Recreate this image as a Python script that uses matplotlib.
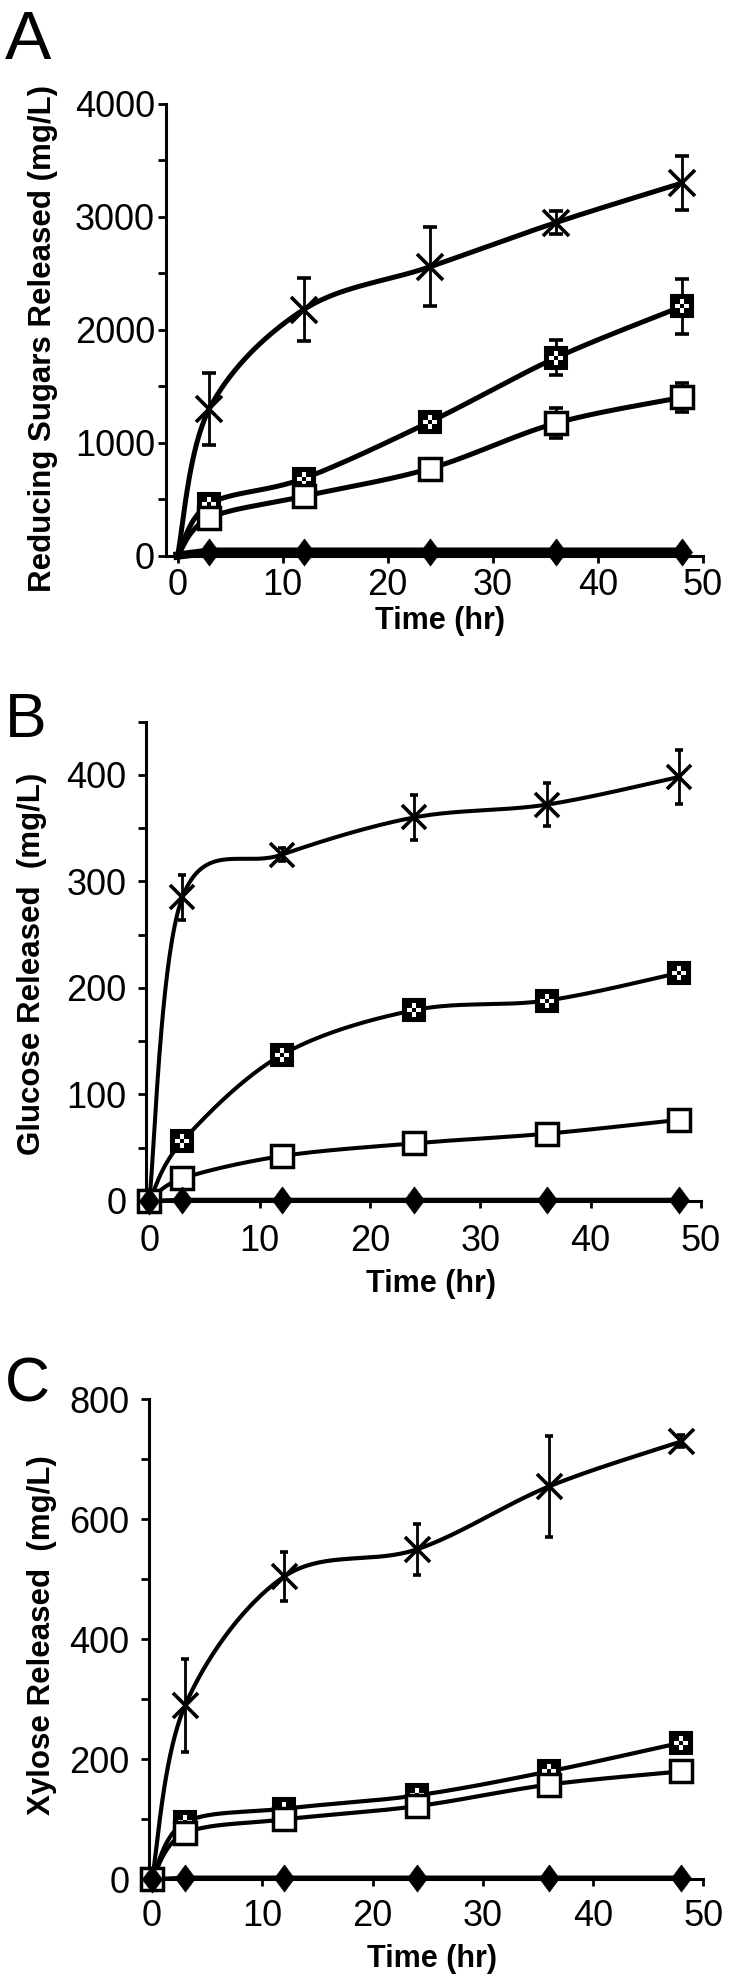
"""Sugar release time courses - three stacked panels (reducing sugars,
glucose, xylose). Excel-style smoothed lines, drawn as Catmull-Rom in
screen space so the curves bend the same way the original chart does.
"""
import numpy as np
import matplotlib
matplotlib.use("Agg")
import matplotlib.pyplot as plt
from matplotlib.ticker import MultipleLocator

plt.rcParams["font.family"] = ["Liberation Sans", "DejaVu Sans"]

W, H = 733, 1978
HOURS = [0, 3, 12, 24, 36, 48]

# A: reducing sugars released (mg/L)
A_X = [0, 1295, 2177, 2555, 2947, 3297]
A_X_ERR = [0, 320, 280, 350, 100, 240]
A_CHK = [0, 455, 682, 1183, 1750, 2205]
A_CHK_ERR = [0, 40, 50, 60, 155, 240]
A_SQ = [0, 332, 525, 770, 1172, 1400]
A_SQ_ERR = [0, 0, 0, 0, 130, 130]
A_DIA = [0, 35, 35, 35, 35, 35]

# B: glucose released (mg/L)
B_X = [0, 285, 325, 360, 372, 398]
B_X_ERR = [0, 21, 6, 21, 20, 25]
B_CHK = [0, 56, 137, 179, 188, 214]
B_CHK_ERR = [0, 0, 0, 0, 0, 0]
B_SQ = [0, 21, 42, 54, 63, 76]
B_SQ_ERR = [0, 0, 0, 0, 0, 0]
B_DIA = [0, 1, 1, 1, 1, 1]

# C: xylose released (mg/L)
C_X = [0, 290, 505, 550, 655, 730]
C_X_ERR = [0, 78, 41, 43, 84, 10]
C_CHK = [0, 95, 118, 140, 180, 228]
C_CHK_ERR = [0, 0, 15, 15, 15, 0]
C_SQ = [0, 77, 100, 122, 158, 180]
C_SQ_ERR = [0, 0, 15, 15, 0, 0]
C_DIA = [0, 3, 3, 3, 3, 3]

A_YTICKS = [0, 1000, 2000, 3000, 4000]
B_YTICKS = [0, 100, 200, 300, 400]
C_YTICKS = [0, 200, 400, 600, 800]
XTICKS = [0, 10, 20, 30, 40, 50]

DIAMOND = [(0, 1), (0.74, 0), (0, -1), (-0.74, 0), (0, 1)]


def frac(x0, y0, x1, y1):
    """pixel box (top-left / bottom-right) -> figure rect"""
    return [x0 / W, 1 - y1 / H, (x1 - x0) / W, (y1 - y0) / H]


def smooth(ax, xs, ys, n=40):
    pts = ax.transData.transform(np.column_stack([xs, ys]))
    P = np.vstack([pts[0], pts, pts[-1]])
    t = np.linspace(0, 1, n)[:, None]
    h00 = 2 * t**3 - 3 * t**2 + 1
    h10 = t**3 - 2 * t**2 + t
    h01 = -2 * t**3 + 3 * t**2
    h11 = t**3 - t**2
    segs = []
    for i in range(1, len(P) - 2):
        m1 = (P[i + 1] - P[i - 1]) / 2
        m2 = (P[i + 2] - P[i]) / 2
        segs.append(h00 * P[i] + h10 * m1 + h01 * P[i + 1] + h11 * m2)
    curve = ax.transData.inverted().transform(np.vstack(segs))
    return curve[:, 0], curve[:, 1]


def errbars(ax, xs, ys, errs, cap):
    xe = [x for x, e in zip(xs, errs) if e > 0]
    ye = [y for y, e in zip(ys, errs) if e > 0]
    ee = [e for e in errs if e > 0]
    if ee:
        ax.errorbar(xe, ye, yerr=ee, fmt="none", ecolor="black", elinewidth=2,
                    capsize=cap, capthick=2.6, clip_on=False, zorder=3)


def panel(fig, rect, xlim, ylim, ymajor, yminor, yticks, series, cfg):
    ax = fig.add_axes(rect)
    ax.set_xlim(*xlim)
    ax.set_ylim(*ylim)
    lw = cfg["lw"]
    cap = cfg["cap"]
    first = cfg["first_marker"]

    ys, yerr = series["chk"]
    sx, sy = smooth(ax, HOURS, ys)
    ax.plot(sx, sy, color="black", lw=lw, clip_on=False, zorder=2)
    errbars(ax, HOURS, ys, yerr, cap)
    mx, my = HOURS[first:], ys[first:]
    ax.plot(mx, my, ls="none", marker="s", ms=16, mfc="black", mec="black",
            mew=1.5, clip_on=False, zorder=4)
    ax.plot(mx, my, ls="none", marker="P", ms=10, mfc="white", mew=0,
            clip_on=False, zorder=4)
    ax.plot(mx, my, ls="none", marker="s", ms=3, mfc="black", mew=0,
            clip_on=False, zorder=4)

    ys, yerr = series["sq"]
    sx, sy = smooth(ax, HOURS, ys)
    ax.plot(sx, sy, color="black", lw=lw, clip_on=False, zorder=2)
    errbars(ax, HOURS, ys, yerr, cap)
    ax.plot(HOURS[first:], ys[first:], ls="none", marker="s", ms=16,
            mfc="white", mec="black", mew=2.5, clip_on=False, zorder=5)

    ys, yerr = series["x"]
    sx, sy = smooth(ax, HOURS, ys)
    ax.plot(sx, sy, color="black", lw=lw, clip_on=False, zorder=2)
    errbars(ax, HOURS, ys, yerr, cap)
    ax.plot(HOURS[1:], ys[1:], ls="none", marker="x", ms=cfg["x_ms"],
            mec="black", mew=2.6, clip_on=False, zorder=5)

    ys = series["dia"]
    ax.plot(HOURS, ys, color="black", lw=cfg["dia_lw"], clip_on=False, zorder=2)
    ax.plot(HOURS[first:], ys[first:], ls="none", marker=DIAMOND, ms=19.5,
            mfc="black", mec="black", mew=0.5, clip_on=False, zorder=6)

    for side in ("top", "right"):
        ax.spines[side].set_visible(False)
    for side in ("left", "bottom"):
        ax.spines[side].set_linewidth(2.2)
    ax.yaxis.set_major_locator(MultipleLocator(ymajor))
    ax.yaxis.set_minor_locator(MultipleLocator(yminor))
    ax.set_yticks(yticks)
    ax.set_xticks(XTICKS)
    ax.tick_params(axis="y", which="both", direction="out", length=6, width=2,
                   pad=cfg["ypad"], labelsize=26)
    ax.tick_params(axis="x", direction="out", length=5, width=2,
                   pad=cfg["xpad"], labelsize=26)
    return ax


def main():
    fig = plt.figure(figsize=(W / 100, H / 100), dpi=100)

    panel(fig, frac(166, 103.6, 703, 555.6), (-1.1, 50), (0, 4000), 1000, 500,
          A_YTICKS,
          {"x": (A_X, A_X_ERR), "chk": (A_CHK, A_CHK_ERR),
           "sq": (A_SQ, A_SQ_ERR), "dia": A_DIA},
          {"lw": 3.6, "dia_lw": 6, "first_marker": 1, "ypad": 2, "xpad": 4,
           "cap": 5, "x_ms": 19})
    panel(fig, frac(146, 721.6, 701, 1200.8), (-0.3, 50), (0, 450), 100, 50,
          B_YTICKS,
          {"x": (B_X, B_X_ERR), "chk": (B_CHK, B_CHK_ERR),
           "sq": (B_SQ, B_SQ_ERR), "dia": B_DIA},
          {"lw": 2.9, "dia_lw": 2.9, "first_marker": 0, "ypad": 8, "xpad": 12,
           "cap": 3, "x_ms": 17})
    panel(fig, frac(148.7, 1399.4, 703.5, 1879.4), (-0.3, 50), (0, 800), 200, 100,
          C_YTICKS,
          {"x": (C_X, C_X_ERR), "chk": (C_CHK, C_CHK_ERR),
           "sq": (C_SQ, C_SQ_ERR), "dia": C_DIA},
          {"lw": 3.0, "dia_lw": 3.0, "first_marker": 0, "ypad": 8, "xpad": 9,
           "cap": 3, "x_ms": 18})

    letters = [("A", 59, 50), ("B", 737, 45), ("C", 1401, 45)]
    for txt, base, size in letters:
        fig.text(5 / W, 1 - base / H, txt, fontsize=size, va="baseline", ha="left")

    ylabels = [("Reducing Sugars Released (mg/L)", 43, 338),
               ("Glucose Released  (mg/L)", 32, 964),
               ("Xylose Released  (mg/L)", 42, 1635)]
    for txt, x, y in ylabels:
        fig.text(x / W, 1 - y / H, txt, rotation=90, fontsize=22.5,
                 fontweight="bold", ha="center", va="center")

    for x, y in [(440, 621), (431, 1284), (432, 1959)]:
        fig.text(x / W, 1 - y / H, "Time (hr)", fontsize=22, fontweight="bold",
                 ha="center", va="center")

    fig.savefig("out.png", dpi=100)
    plt.close(fig)


if __name__ == "__main__":
    main()
